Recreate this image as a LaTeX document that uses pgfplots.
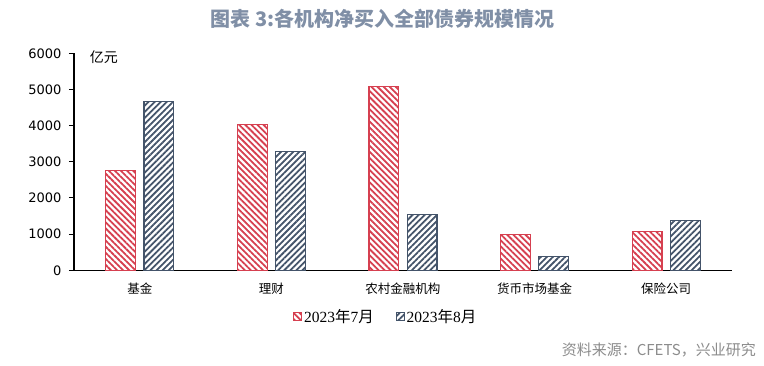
\documentclass[border=0pt]{standalone}
\usepackage{fontspec}
\setmainfont{Liberation Sans}
\newfontfamily\cjk{Noto Sans CJK SC}
\newfontfamily\dejavu{DejaVu Sans}
\newfontfamily\serif{Liberation Serif}
\usepackage{pgfplots}
\pgfplotsset{compat=1.18}
\usetikzlibrary{patterns.meta}
\definecolor{myred}{RGB}{214,64,80}
\definecolor{myblue}{RGB}{68,84,106}
\definecolor{titlec}{RGB}{128,143,166}
\definecolor{srcc}{RGB}{140,140,140}
\begin{document}
\begin{tikzpicture}
\useasboundingbox (-74pt,-95.7pt) rectangle (690pt,270.3pt);
\begin{axis}[
  at={(0pt,0pt)}, anchor=south west,
  scale only axis, width=658pt, height=217pt,
  xmin=-0.5, xmax=4.5, ymin=0, ymax=6000,
  axis x line=bottom, axis y line=left,
  axis line style={-, line width=1.1pt, black},
  xtick={0,1,2,3,4},
  xticklabels={基金,理财,农村金融机构,货币市场基金,保险公司},
  xtick style={draw=none},
  minor xtick={-0.5,0.5,1.5,2.5,3.5,4.5},
  minor x tick style={line width=1pt, black},
  minor tick length=5pt,
  ytick={0,1000,...,6000},
  y tick style={line width=1pt, black},
  major tick length=5pt,
  tick align=outside,
  xticklabel style={font=\cjk\fontsize{12.5}{14}\selectfont, yshift=-4.5pt},
  yticklabel style={font=\dejavu\fontsize{13}{14}\selectfont, xshift=-4pt},
  /pgf/number format/assume math mode=true,
  /pgf/number format/set thousands separator={},
  legend style={at={(rel axis cs:0.474,-0.214)}, anchor=center, draw=none, fill=none,
    font=\fontsize{15.5}{17}\selectfont, legend columns=2,
    /tikz/every even column/.append style={column sep=20pt},
    inner sep=0pt},
  legend image code/.code={\draw[#1, line width=0.8pt] (0pt,-4pt) rectangle (8pt,4pt);},
  clip=false,
]
\addplot[ybar, bar width=0.227, bar shift=-0.145, draw=myred, line width=1.2pt,
  pattern={Lines[angle=-45,distance=4.3pt,line width=1.8pt]}, pattern color=myred]
  coordinates {(0,2756) (1,4028) (2,5085) (3,995) (4,1075)};
\addplot[ybar, bar width=0.227, bar shift=0.145, draw=myblue, line width=1.2pt,
  pattern={Lines[angle=45,distance=4.3pt,line width=1.8pt]}, pattern color=myblue]
  coordinates {(0,4665) (1,3281) (2,1545) (3,385) (4,1380)};
\legend{{\serif 2023}{\cjk 年}{\serif 7}{\cjk 月},{\serif 2023}{\cjk 年}{\serif 8}{\cjk 月}}
\end{axis}
\node[font=\cjk\fontsize{14}{16}\selectfont, anchor=center] at (30pt,213.6pt) {亿元};
\node[font=\cjk\bfseries\fontsize{20}{22}\selectfont, text=titlec, anchor=center] at (308.5pt,251.3pt) {图表 3:各机构净买入全部债券规模情况};
\node[font=\cjk\fontsize{15}{17}\selectfont, text=srcc, anchor=east, inner sep=0pt] at (682pt,-79.7pt) {资料来源：CFETS，兴业研究};
\end{tikzpicture}
\end{document}
